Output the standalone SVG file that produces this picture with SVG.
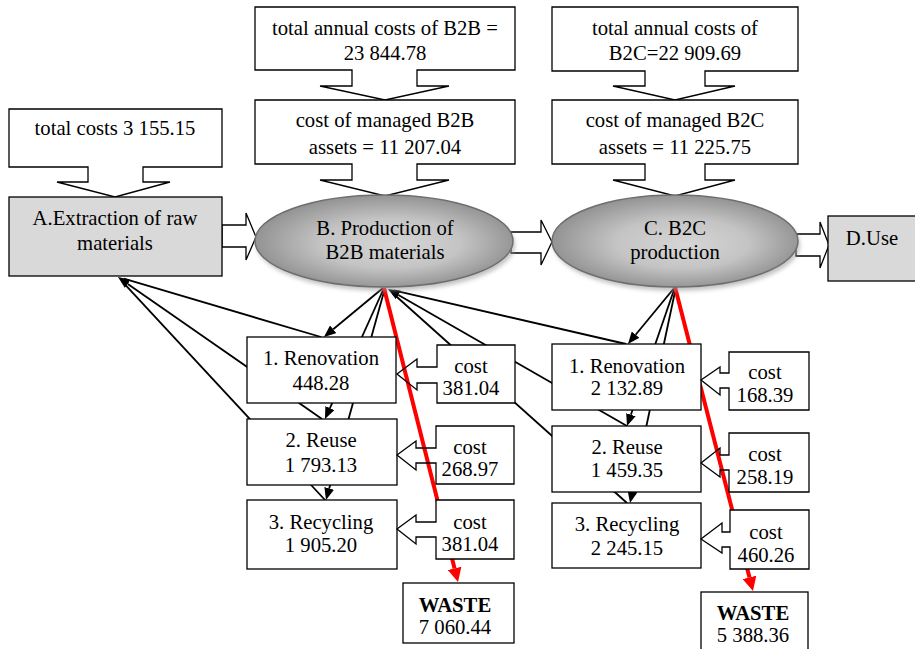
<svg xmlns="http://www.w3.org/2000/svg" width="915" height="649" viewBox="0 0 915 649" font-family="'Liberation Serif','Times New Roman',serif">
<style>
text{font-family:"Liberation Serif","Times New Roman",serif;font-size:20.7px;fill:#000;text-anchor:middle}
.bx{fill:#fff;stroke:#000;stroke-width:1.3}
.gr{fill:#d9d9d9;stroke:#000;stroke-width:1.3}
.ol{fill:none;stroke:#000;stroke-width:1.3}
.ln{fill:none;stroke:#000;stroke-width:1.8}
.ar{fill:none;stroke:#000;stroke-width:1.8;marker-end:url(#ah)}
.rd{fill:none;stroke:#ff0000;stroke-width:4;marker-end:url(#rh)}
.el{fill:url(#eg);stroke:#6e6e6e;stroke-width:1.5}
.sh{fill:#9a9a9a;opacity:0.6;filter:url(#bl)}
.b{font-weight:bold}
</style>
<defs>
<marker id="ah" viewBox="0 0 12 10" refX="0" refY="5" markerWidth="12" markerHeight="10" markerUnits="userSpaceOnUse" orient="auto"><path d="M0,0 L12,5 L0,10 z" fill="#000"/></marker>
<marker id="rh" viewBox="0 0 14 14" refX="0" refY="7" markerWidth="14" markerHeight="14" markerUnits="userSpaceOnUse" orient="auto"><path d="M0,0 L14,7 L0,14 z" fill="#ff0000"/></marker>
<radialGradient id="eg" cx="0.5" cy="0.5" r="0.6" fx="0.55" fy="0.55">
<stop offset="0" stop-color="#d6d6d6"/>
<stop offset="0.45" stop-color="#c4c4c4"/>
<stop offset="1" stop-color="#808080"/>
</radialGradient>
<filter id="bl" x="-10%" y="-20%" width="120%" height="140%"><feGaussianBlur stdDeviation="2"/></filter>
</defs>
<rect width="915" height="649" fill="#fff"/>

<g id="connectors">
<line class="ln" x1="321" y1="337" x2="123.8" y2="278.7"/>
<line class="ar" x1="322" y1="419" x2="127.8" y2="283.9"/>
<line class="ln" x1="325" y1="500" x2="122.1" y2="281.4"/>
<line class="ar" x1="383" y1="288" x2="333.2" y2="329.3"/>
<line class="ar" x1="384" y1="288" x2="329.9" y2="408.1"/>
<line class="ar" x1="385" y1="288" x2="329.2" y2="488.4"/>
<line class="ln" x1="626" y1="344" x2="393.8" y2="290.4"/>
<line class="ar" x1="627" y1="426" x2="398.4" y2="295"/>
<line class="ln" x1="627" y1="503" x2="392.5" y2="293"/>
<line class="ar" x1="675" y1="287" x2="635.6" y2="334.7"/>
<line class="ar" x1="675" y1="287" x2="630.9" y2="414.7"/>
<line class="ar" x1="676" y1="287" x2="632.5" y2="491.3"/>
<line class="rd" x1="384" y1="288" x2="454.6" y2="568.4"/>
<line class="rd" x1="675" y1="287" x2="749.5" y2="577.4"/>
</g>

<g id="flow-arrows">
<path class="bx" d="M222,225 H246 V213 L256,237 L246,260 V247 H222 Z"/>
<path class="bx" d="M511,232 H541 V220 L552,242 L541,265 V253 H511 Z"/>
<path class="bx" d="M796,234 H820 V222 L829,245 L820,268 V256 H796 Z"/>
</g>

<g id="total-costs-A">
<path class="bx" d="M9,109 H222 V167 H143 V182 H170 L115,197 L57,182 H88 V167 H9 Z"/>
<text x="115" y="135">total costs 3 155.15</text>
</g>
<g id="node-A">
<rect class="gr" x="9" y="197" width="213" height="79"/>
<text x="115" y="225">A.Extraction of raw</text>
<text x="115" y="250">materials</text>
</g>

<g id="total-B2B">
<path class="bx" d="M255,7 H515 V70 H417 V86 H449 L385,100 L320,86 H352 V70 H255 Z"/>
<text x="385" y="35">total annual costs of B2B =</text>
<text x="385" y="60">23 844.78</text>
</g>
<g id="managed-B2B">
<path class="bx" d="M255,100 H515 V164 H417 V180 H449 L385,196 L320,180 H352 V164 H255 Z"/>
<text x="385" y="127">cost of managed B2B</text>
<text x="385" y="154">assets = 11 207.04</text>
</g>
<g id="total-B2C">
<path class="bx" d="M552,7 H798 V71 H705 V86 H735 L675,100 L613,86 H645 V71 H552 Z"/>
<text x="675" y="35">total annual costs of</text>
<text x="675" y="60">B2C=22 909.69</text>
</g>
<g id="managed-B2C">
<path class="bx" d="M552,100 H798 V164 H705 V180 H735 L675,196 L613,180 H645 V164 H552 Z"/>
<text x="675" y="127">cost of managed B2C</text>
<text x="675" y="154">assets = 11 225.75</text>
</g>

<g id="node-B">
<ellipse class="sh" cx="386" cy="245" rx="129" ry="46"/>
<ellipse class="el" cx="384" cy="241" rx="129" ry="46"/>
<text x="385" y="235">B. Production of</text>
<text x="385" y="259">B2B materials</text>
</g>
<g id="node-C">
<ellipse class="sh" cx="677" cy="245" rx="123" ry="46"/>
<ellipse class="el" cx="675" cy="241" rx="123" ry="46"/>
<text x="675" y="235">C. B2C</text>
<text x="675" y="259">production</text>
</g>
<g id="node-D">
<rect class="gr" x="828" y="216" width="100" height="65"/>
<text x="872" y="245">D.Use</text>
</g>

<g id="b2b-renovation">
<rect class="bx" x="247" y="337" width="149" height="66"/>
<text x="321" y="365">1. Renovation</text>
<text x="321" y="390">448.28</text>
</g>
<g id="b2b-reuse">
<rect class="bx" x="247" y="419" width="150" height="66"/>
<text x="321" y="447">2. Reuse</text>
<text x="321" y="472">1 793.13</text>
</g>
<g id="b2b-recycling">
<rect class="bx" x="247" y="500" width="150" height="69"/>
<text x="321" y="529">3. Recycling</text>
<text x="321" y="552">1 905.20</text>
</g>

<g id="b2b-cost1">
<rect x="437" y="345" width="78" height="58" fill="#fff"/>
<path class="ol" d="M437,367 V345 H515 V403 H437 V383 H417 V390 L397,374 L417,359 V367 Z"/>
<text x="471" y="373">cost</text>
<text x="471" y="395">381.04</text>
</g>
<g id="b2b-cost2">
<rect x="436" y="426" width="78" height="58" fill="#fff"/>
<path class="ol" d="M436,448 V426 H514 V484 H436 V463 H416 V470 L397,455 L416,441 V448 Z"/>
<text x="470" y="454">cost</text>
<text x="470" y="476">268.97</text>
</g>
<g id="b2b-cost3">
<rect x="436" y="500" width="78" height="59" fill="#fff"/>
<path class="ol" d="M436,522 V500 H514 V559 H436 V537 H416 V544 L397,529 L416,515 V522 Z"/>
<text x="470" y="529">cost</text>
<text x="470" y="551">381.04</text>
</g>
<g id="b2b-waste">
<rect class="bx" x="403" y="583" width="111" height="60"/>
<text class="b" x="455" y="612">WASTE</text>
<text x="455" y="634">7 060.44</text>
</g>

<g id="b2c-renovation">
<rect class="bx" x="552" y="344" width="149" height="66"/>
<text x="627" y="373">1. Renovation</text>
<text x="627" y="395">2 132.89</text>
</g>
<g id="b2c-reuse">
<rect class="bx" x="552" y="426" width="149" height="66"/>
<text x="627" y="454">2. Reuse</text>
<text x="627" y="477">1 459.35</text>
</g>
<g id="b2c-recycling">
<rect class="bx" x="552" y="503" width="149" height="65"/>
<text x="627" y="531">3. Recycling</text>
<text x="627" y="555">2 245.15</text>
</g>

<g id="b2c-cost1">
<rect x="729" y="352" width="80" height="58" fill="#fff"/>
<path class="ol" d="M729,373 V352 H809 V410 H729 V388 H720 V395 L701,380 L720,367 V373 Z"/>
<text x="765" y="379">cost</text>
<text x="765" y="402">168.39</text>
</g>
<g id="b2c-cost2">
<rect x="729" y="433" width="80" height="59" fill="#fff"/>
<path class="ol" d="M729,455 V433 H809 V492 H729 V470 H720 V477 L701,463 L720,448 V455 Z"/>
<text x="765" y="461">cost</text>
<text x="765" y="484">258.19</text>
</g>
<g id="b2c-cost3">
<rect x="730" y="510" width="79" height="59" fill="#fff"/>
<path class="ol" d="M730,532 V510 H809 V569 H730 V547 H722 V553 L701,539 L722,523 V532 Z"/>
<text x="766" y="539">cost</text>
<text x="766" y="562">460.26</text>
</g>
<g id="b2c-waste">
<rect class="bx" x="701" y="592" width="107" height="70"/>
<text class="b" x="753" y="620">WASTE</text>
<text x="753" y="642">5 388.36</text>
</g>
</svg>
